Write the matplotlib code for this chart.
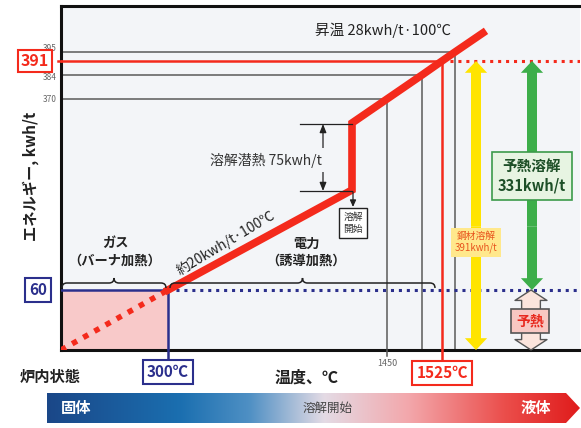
import numpy as np
import matplotlib.pyplot as plt
from matplotlib.path import Path
from matplotlib.patches import Rectangle, PathPatch, Polygon
from matplotlib.colors import LinearSegmentedColormap
from matplotlib.transforms import blended_transform_factory

plt.rcParams['font.family'] = ['Noto Sans CJK JP', 'DejaVu Sans']

# heating path of the charge: temperature (°C) vs. energy (kWh/t)
gas_temp = [0, 300]
gas_energy = [0, 60]
elec_temp = [300, 1400, 1400, 1450, 1500, 1525, 1540, 1588]
elec_energy = [60, 281, 356, 370, 384, 391, 395, 408]

ref_temp = [1450, 1500, 1540]
ref_energy = [370, 384, 395]
ref_labels = ['370', '384', '395']

preheat_temp = 300
preheat_energy = 60
tap_temp = 1525
tap_energy = 391

RED = '#f42a1c'
NAVY = '#2b2f8c'
GRAY = '#5a5a5a'

# schematic (piecewise linear) axes: value -> pixel distance
x_val = [-10000, 0, 300, 1400, 1450, 1500, 1525, 1540, 10000]
x_pix = [61 - 3570, 61, 168, 352, 387, 422, 442, 455, 455 + 8460 * 0.58]
y_val = [-1000, 0, 60, 281, 356, 370, 384, 391, 395, 408, 2000]
y_pix = [-1000, 0, 60, 160, 227, 251, 275, 289, 298, 317, 317 + 1592 * 1.3]


def x_fwd(v):
    return np.interp(v, x_val, x_pix)


def x_inv(p):
    return np.interp(p, x_pix, x_val)


def y_fwd(v):
    return np.interp(v, y_val, y_pix)


def y_inv(p):
    return np.interp(p, y_pix, y_val)


fig = plt.figure(figsize=(5.81, 4.28), dpi=100)
ax = fig.add_axes([61 / 581, 78 / 428, 519 / 581, 344 / 428])
ax.set_xscale('function', functions=(x_fwd, x_inv))
ax.set_yscale('function', functions=(y_fwd, y_inv))
ax.set_xlim(0, x_inv(580))
ax.set_ylim(0, y_inv(344))
ax.set_facecolor('#f3f5f8')
ax.set_xticks([])
ax.set_yticks([])
for s in ['left', 'top', 'bottom']:
    ax.spines[s].set_linewidth(2.2)
    ax.spines[s].set_color('#111111')
ax.spines['right'].set_visible(False)
xmax = ax.get_xlim()[1]

# gas preheating region
ax.add_patch(Rectangle((0, 0), preheat_temp, preheat_energy,
                       facecolor='#f8c9c9', edgecolor='none', zorder=1))
ax.plot([0, preheat_temp], [preheat_energy, preheat_energy], color=NAVY, lw=1.8, zorder=3)
ax.plot([preheat_temp, preheat_temp], [0, preheat_energy], color=NAVY, lw=1.8, zorder=3)
ax.plot([preheat_temp, xmax], [preheat_energy, preheat_energy], color=NAVY, lw=2.2,
        ls=(0, (1, 1.6)), zorder=3)

# reference grid of temperatures/energies
for t, e in zip(ref_temp, ref_energy):
    ax.plot([0, t], [e, e], color=GRAY, lw=1.1, zorder=2)
    ax.plot([t, t], [0, e], color=GRAY, lw=1.1, zorder=2)

# tapping temperature
ax.plot([0, tap_temp], [tap_energy, tap_energy], color=RED, lw=1.8, zorder=3)
ax.plot([tap_temp, tap_temp], [0, tap_energy], color=RED, lw=1.8, zorder=3)
ax.plot([tap_temp, xmax], [tap_energy, tap_energy], color=RED, lw=2.2,
        ls=(0, (1, 1.6)), zorder=3)

# heating curve
ax.plot(gas_temp, gas_energy, color=RED, lw=4, ls=(0, (1, 1.3)), zorder=4)
ax.plot(elec_temp, elec_energy, color=RED, lw=5.5, solid_joinstyle='miter', zorder=5)

# overlay in pixel units for labels and decorations
deco = fig.add_axes([0, 0, 1, 1], zorder=5)
deco.set_xlim(0, 581)
deco.set_ylim(428, 0)
deco.axis('off')
blend = blended_transform_factory(deco.transData, ax.transData)


def double_arrow(x, e0, e1, emid, fc, ec='none', tail=0.72, head=1.6, hlen=0.85, lw=0):
    style = 'simple,head_length=%g,head_width=%g,tail_width=%g' % (hlen, head, tail)
    for end in (e0, e1):
        ax.annotate('', xy=(x, end), xytext=(x, emid), xycoords=blend, textcoords=blend,
                    arrowprops=dict(arrowstyle=style, fc=fc, ec=ec, lw=lw,
                                    shrinkA=0, shrinkB=0), zorder=6, annotation_clip=False)


double_arrow(476, 0, tap_energy, 200, '#ffe400')
double_arrow(532, preheat_energy, tap_energy, 200, '#3dae4a')
double_arrow(531, 0, preheat_energy, 30, '#fbe4dc', ec='#555555', tail=1.35, head=2.3,
             hlen=0.75, lw=1)


def brace(x0, x1, y, h=5):
    xm = (x0 + x1) / 2
    verts = [(x0, y + h), (x0, y), (x0 + h, y), (xm - h, y), (xm, y), (xm, y - h),
             (xm, y), (xm + h, y), (x1 - h, y), (x1, y), (x1, y + h)]
    codes = [Path.MOVETO, Path.CURVE3, Path.CURVE3, Path.LINETO, Path.CURVE3, Path.CURVE3,
             Path.CURVE3, Path.CURVE3, Path.LINETO, Path.CURVE3, Path.CURVE3]
    deco.add_patch(PathPatch(Path(verts, codes), fill=False, lw=1.1, ec='#222222'))


brace(62, 166, 283)
brace(170, 435, 283)

deco.text(115, 252, 'ガス\n（バーナ加熱）', ha='center', va='center', fontsize=9.5,
          fontweight='bold', color='#222222', linespacing=1.3)
deco.text(306, 252, '電力\n（誘導加熱）', ha='center', va='center', fontsize=9.5,
          fontweight='bold', color='#222222', linespacing=1.3)
deco.text(226, 243, '約20kwh/t·100℃', ha='center', va='center', fontsize=10,
          rotation=31, rotation_mode='anchor', color='#222222')
deco.text(383, 30, '昇温 28kwh/t·100℃', ha='center', va='center', fontsize=10.5,
          color='#222222')

# latent heat dimension
deco.plot([300, 352], [124, 124], color='#222222', lw=0.9)
deco.plot([300, 352], [191, 191], color='#222222', lw=0.9)
deco.annotate('', xy=(323, 124), xytext=(323, 191),
              arrowprops=dict(arrowstyle='<|-|>,head_length=0.5,head_width=0.2',
                              color='#222222', lw=0.9, shrinkA=0, shrinkB=0))
deco.text(266, 160, '溶解潜熱 75kwh/t', ha='center', va='center', fontsize=10,
          color='#333333', bbox=dict(boxstyle='square,pad=0.35', fc='#f3f5f8', ec='none'))

deco.annotate('', xy=(353, 207), xytext=(353, 192),
              arrowprops=dict(arrowstyle='-|>,head_length=0.4,head_width=0.18',
                              color='#222222', lw=0.9, shrinkA=0, shrinkB=0))
deco.text(353, 223, '溶解\n開始', ha='center', va='center', fontsize=7,
          color='#333333', linespacing=1.2,
          bbox=dict(boxstyle='square,pad=0.4', fc='white', ec='#222222', lw=1))

# energy labels on the right
deco.text(476, 242, '鋼材溶解\n391kwh/t', ha='center', va='center', fontsize=7,
          color='#e8541e', linespacing=1.3,
          bbox=dict(boxstyle='square,pad=0.35', fc='#ffe88c', ec='none'))
deco.text(532, 176, '予熱溶解\n331kwh/t', ha='center', va='center', fontsize=10.5,
          fontweight='bold', color='#1d4f27', linespacing=1.3,
          bbox=dict(boxstyle='square,pad=0.4', fc='#e7f4e2', ec='#3c9a4a', lw=1.2))
deco.text(530, 321, '予熱', ha='center', va='center', fontsize=10, fontweight='bold',
          color='#e8281e',
          bbox=dict(boxstyle='square,pad=0.35', fc='#f8c7c2', ec='#555555', lw=1.2))

# value labels on the energy axis; 395 sits just above its line, clear of the 391 box
label_shift = [0, 2, -4]
for lab, e, dy in zip(ref_labels, ref_energy, label_shift):
    deco.text(57, 350 - y_fwd(e) + dy, lab, ha='right', va='center', fontsize=6,
              color='#666666')
deco.text(35, 350 - y_fwd(tap_energy), '391', ha='center', va='center', fontsize=11.5,
          fontweight='bold', color=RED, zorder=6,
          bbox=dict(boxstyle='square,pad=0.18', fc='white', ec=RED, lw=1.5))
deco.plot([58, 61], [350 - y_fwd(tap_energy)] * 2, color=RED, lw=1.8)
deco.text(38, 350 - y_fwd(preheat_energy), '60', ha='center', va='center', fontsize=11,
          fontweight='bold', color=NAVY,
          bbox=dict(boxstyle='square,pad=0.25', fc='white', ec=NAVY, lw=1.5))
deco.text(31, 176, 'エネルギー, kwh/t', ha='center', va='center', rotation=90,
          fontsize=11, fontweight='bold', color='#222222')

# temperature labels below the axis
x300 = x_fwd(preheat_temp)
x1525 = x_fwd(tap_temp)
x1450 = x_fwd(1450)
deco.plot([x300, x300], [350, 360], color=NAVY, lw=1.8)
deco.plot([x1525, x1525], [350, 360], color=RED, lw=1.8)
deco.plot([x1450, x1450], [350, 356], color=GRAY, lw=1.1)
deco.text(x300, 372, '300℃', ha='center', va='center', fontsize=11, fontweight='bold',
          color=NAVY, bbox=dict(boxstyle='square,pad=0.25', fc='white', ec=NAVY, lw=1.5))
deco.text(x1525, 373, '1525℃', ha='center', va='center', fontsize=11, fontweight='bold',
          color=RED, bbox=dict(boxstyle='square,pad=0.25', fc='white', ec=RED, lw=1.5))
deco.text(x1450, 364, '1450', ha='center', va='center', fontsize=6.5, color='#666666')
deco.text(307, 378, '温度、℃', ha='center', va='center', fontsize=11.5, fontweight='bold',
          color='#222222')
deco.text(50, 377, '炉内状態', ha='center', va='center', fontsize=11, fontweight='bold',
          color='#222222')

# state bar: solid -> liquid
state_cmap = LinearSegmentedColormap.from_list('state', [
    (0.0, '#1a4788'), (0.25, '#1b6fb0'), (0.38, '#4f90c4'), (0.52, '#e4dbe5'),
    (0.68, '#f3a7ab'), (0.86, '#eb4e4b'), (1.0, '#e01c1c')])
bar_shape = Polygon([(47, 393), (566, 393), (580, 408), (566, 423), (47, 423)],
                    closed=True, fc='none', ec='none')
deco.add_patch(bar_shape)
grad = deco.imshow(np.linspace(0, 1, 256)[None, :], cmap=state_cmap, aspect='auto',
                   extent=(47, 580, 423, 393), interpolation='bicubic')
grad.set_clip_path(bar_shape)
deco.set_xlim(0, 581)
deco.set_ylim(428, 0)
deco.text(76, 408, '固体', ha='center', va='center', fontsize=11, fontweight='bold',
          color='white')
deco.text(328, 408, '溶解開始', ha='center', va='center', fontsize=9, color='#444444')
deco.text(536, 408, '液体', ha='center', va='center', fontsize=11, fontweight='bold',
          color='white')

fig.savefig('out.png', dpi=100)
